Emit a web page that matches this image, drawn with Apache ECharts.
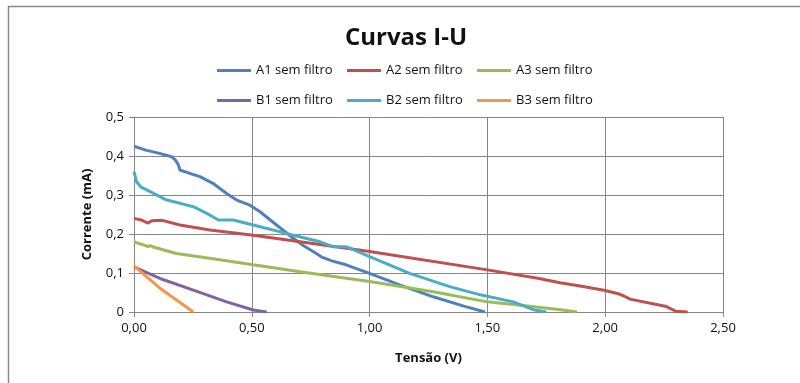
<!DOCTYPE html>
<html>
<head>
<meta charset="utf-8">
<script src="https://cdn.jsdelivr.net/npm/echarts@6/dist/echarts.min.js"></script>
<style>html,body{margin:0;padding:0;background:#fff}#c{width:800px;height:383px}</style>
</head>
<body>
<div id="c"></div>
<script>
var seriesNames = ['A1 sem filtro','A2 sem filtro','A3 sem filtro','B1 sem filtro','B2 sem filtro','B3 sem filtro'];
var xTicks = [0, 0.5, 1.0, 1.5, 2.0, 2.5];
var yTicks = [0, 0.1, 0.2, 0.3, 0.4, 0.5];

var a1 = [[0,0.425],[0.05,0.415],[0.10,0.408],[0.16,0.398],[0.175,0.39],[0.188,0.378],[0.195,0.364],[0.24,0.355],[0.28,0.347],[0.335,0.33],[0.393,0.304],[0.436,0.287],[0.492,0.274],[0.535,0.257],[0.605,0.223],[0.676,0.189],[0.72,0.17],[0.76,0.155],[0.80,0.140],[0.84,0.131],[0.90,0.121],[1.0,0.099],[1.13,0.069],[1.27,0.039],[1.40,0.015],[1.49,0]];
var a2 = [[0,0.240],[0.03,0.236],[0.06,0.228],[0.075,0.234],[0.12,0.235],[0.195,0.223],[0.322,0.21],[0.506,0.197],[0.705,0.180],[1.0,0.155],[1.5,0.108],[1.72,0.086],[1.808,0.075],[1.90,0.066],[2.0,0.055],[2.06,0.046],[2.08,0.041],[2.105,0.033],[2.26,0.014],[2.30,0.002],[2.35,0]];
var a3 = [[0,0.180],[0.04,0.172],[0.06,0.168],[0.07,0.170],[0.075,0.174],[0.085,0.166],[0.18,0.150],[0.32,0.138],[0.506,0.121],[0.705,0.103],[1.0,0.078],[1.27,0.052],[1.5,0.026],[1.69,0.014],[1.81,0.006],[1.88,0]];
var b1 = [[0,0.116],[0.11,0.086],[0.252,0.056],[0.393,0.026],[0.506,0.005],[0.563,0]];
var b2 = [[0,0.36],[0.011,0.334],[0.03,0.32],[0.054,0.313],[0.139,0.287],[0.20,0.278],[0.252,0.27],[0.309,0.253],[0.358,0.236],[0.421,0.236],[0.506,0.223],[0.676,0.197],[0.79,0.18],[0.846,0.167],[0.903,0.167],[1.0,0.142],[1.17,0.099],[1.34,0.065],[1.47,0.044],[1.61,0.026],[1.695,0.006],[1.75,0]];
var b3 = [[0,0.118],[0.11,0.061],[0.252,0]];

var allData = [a1, a2, a3, b1, b2, b3];
var colors = ['#4F81BD','#C0504D','#9BBB59','#8064A2','#4BACC6','#F79646'];
var legendPos = [[217,64],[347,64],[477,64],[217,94],[347,94],[477,94]];
var FONT = '"Open Sans", "Noto Sans", sans-serif';

var chart = echarts.init(document.getElementById('c'), null, {renderer:'canvas'});
var legends = seriesNames.map(function(n, i){
  return {
    data:[n], left:legendPos[i][0], top:legendPos[i][1],
    icon:'rect', itemWidth:34, itemHeight:3, itemGap:3, padding:0,
    textStyle:{fontFamily:FONT, fontSize:13, color:'#111'},
    selectedMode:false
  };
});
function fmt(v, d){ return v.toFixed(d).replace('.', ','); }
chart.setOption({
  animation:false,
  backgroundColor:'#fff',
  color:colors,
  title:{text:'Curvas I-U', left:345, top:26, padding:0,
    textStyle:{fontFamily:FONT, fontSize:24, fontWeight:'bold', color:'#111'}},
  legend:legends,
  graphic:[{type:'rect', shape:{x:8.5, y:6.5, width:900, height:500},
    style:{fill:null, stroke:'#8a8a8a', lineWidth:1.5}, silent:true, z:-1}],
  grid:{left:134, right:77, top:117, bottom:71, containLabel:false},
  xAxis:{type:'value', min:xTicks[0], max:xTicks[xTicks.length-1], interval:0.5,
    name:'Tensão (V)', nameLocation:'middle', nameGap:40,
    nameTextStyle:{fontFamily:FONT, fontSize:13, fontWeight:'bold', color:'#111'},
    axisLine:{show:true, lineStyle:{color:'#868686', width:1}},
    axisTick:{show:true, length:5, lineStyle:{color:'#868686'}},
    axisLabel:{fontFamily:FONT, fontSize:13, color:'#111', margin:10, formatter:function(v){return fmt(v,2);}},
    splitLine:{show:true, lineStyle:{color:'#868686', width:1}}},
  yAxis:{type:'value', min:yTicks[0], max:yTicks[yTicks.length-1], interval:0.1,
    name:'Corrente (mA)', nameLocation:'middle', nameGap:40,
    nameTextStyle:{fontFamily:FONT, fontSize:13, fontWeight:'bold', color:'#111'},
    axisLine:{show:true, lineStyle:{color:'#868686', width:1}},
    axisTick:{show:true, length:5, lineStyle:{color:'#868686'}},
    axisLabel:{fontFamily:FONT, fontSize:13, color:'#111', margin:10, formatter:function(v){return v===0?'0':fmt(v,1);}},
    splitLine:{show:true, lineStyle:{color:'#868686', width:1}}},
  series: seriesNames.map(function(n, i){
    return {name:n, type:'line', data:allData[i], showSymbol:false, symbol:'none',
      lineStyle:{width:3, color:colors[i]}, itemStyle:{color:colors[i]}, smooth:false, z:2};
  })
});
</script>
</body>
</html>
